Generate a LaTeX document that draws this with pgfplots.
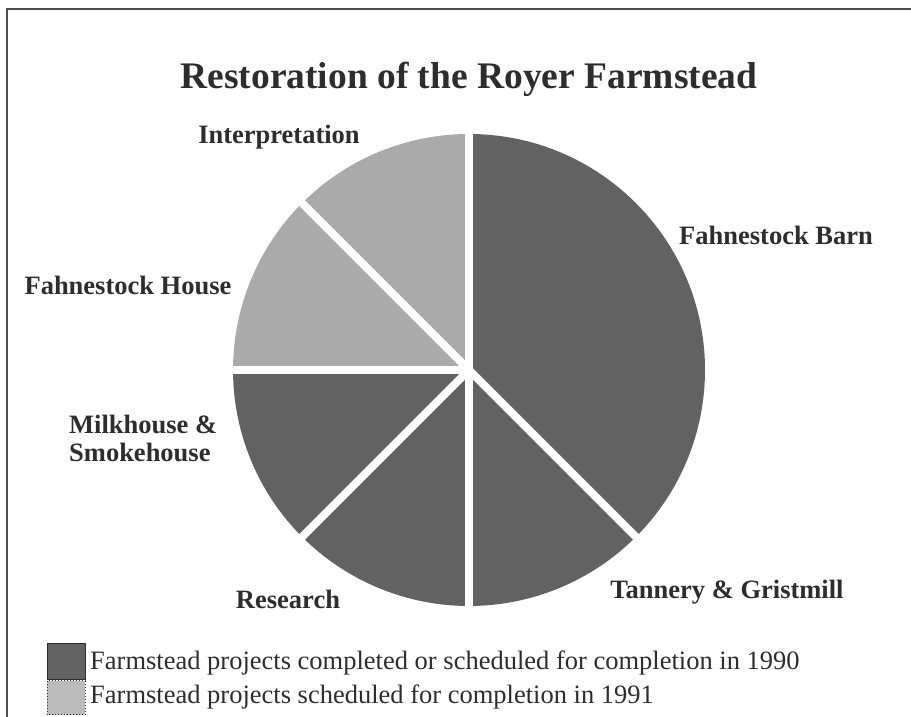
\documentclass[border=0pt]{standalone}
\usepackage{pgfplots}
\usepackage{pgfplotstable}
\pgfplotsset{compat=1.18}
\usepackage{fontspec}
\setmainfont{Liberation Serif}
\definecolor{darkslice}{RGB}{98,98,98}
\definecolor{lightslice}{RGB}{170,170,170}
\definecolor{ink}{RGB}{45,45,45}

\pgfplotstableread{
label value shade
Barn 37.5 darkslice
Tannery 12.5 darkslice
Research 12.5 darkslice
Milkhouse 12.5 darkslice
House 12.5 lightslice
Interpretation 12.5 lightslice
}\piedata

\begin{document}
\begin{tikzpicture}
\begin{axis}[x=1pt,y=1pt,xmin=0,xmax=911,ymin=0,ymax=717,hide axis,clip=false]
% wedges
\xdef\cum{0}
\pgfplotstableforeachcolumnelement{value}\of\piedata\as\v{%
  \pgfmathsetmacro{\a}{90-3.6*\cum}%
  \pgfmathsetmacro{\b}{90-3.6*(\cum+\v)}%
  \pgfplotstablegetelem{\pgfplotstablerow}{shade}\of\piedata
  \edef\temp{\noexpand\fill[\pgfplotsretval] (axis cs:469,347) -- ([shift={(\a:236pt)}]axis cs:469,347) arc[start angle=\a,end angle=\b,radius=236pt] -- cycle;}%
  \temp
  \pgfmathsetmacro{\c}{\cum+\v}\xdef\cum{\c}%
}
% white separators
\xdef\cum{0}
\pgfplotstableforeachcolumnelement{value}\of\piedata\as\v{%
  \pgfmathsetmacro{\a}{90-3.6*\cum}%
  \edef\temp{\noexpand\draw[white,line width=8pt] (axis cs:469,347) -- ([shift={(\a:240pt)}]axis cs:469,347);}%
  \temp
  \pgfmathsetmacro{\c}{\cum+\v}\xdef\cum{\c}%
}
% frame
\draw[line width=1.8pt,black!70] (axis cs:7,0) -- (axis cs:7,708) -- (axis cs:911,708);
% title
\node[ink,font=\bfseries\fontsize{37.5}{42}\selectfont] at (axis cs:469,638) {Restoration of the Royer Farmstead};
% labels
\begin{scope}[every node/.style={ink,font=\bfseries\fontsize{26.5}{28}\selectfont}]
\node at (axis cs:279,580) {Interpretation};
\node at (axis cs:776,482) {Fahnestock Barn};
\node at (axis cs:128,432) {Fahnestock House};
\node[anchor=west,align=left,inner sep=0pt] at (axis cs:69,279) {Milkhouse \&\\Smokehouse};
\node at (axis cs:288,118) {Research};
\node at (axis cs:727,125) {Tannery \& Gristmill};
\end{scope}
% legend
\fill[darkslice,draw=ink,line width=1pt] (axis cs:47,37) rectangle (axis cs:85,73);
\fill[lightslice!80,draw=ink,line width=1pt,dotted] (axis cs:47,2) rectangle (axis cs:85,36);
\begin{scope}[every node/.style={ink,anchor=west,inner sep=0pt,font=\fontsize{26.5}{28}\selectfont}]
\node at (axis cs:90,54) {Farmstead projects completed or scheduled for completion in 1990};
\node at (axis cs:90,20) {Farmstead projects scheduled for completion in 1991};
\end{scope}
\end{axis}
\pgfresetboundingbox
\useasboundingbox (0,0) rectangle (911pt,717pt);
\end{tikzpicture}
\end{document}
